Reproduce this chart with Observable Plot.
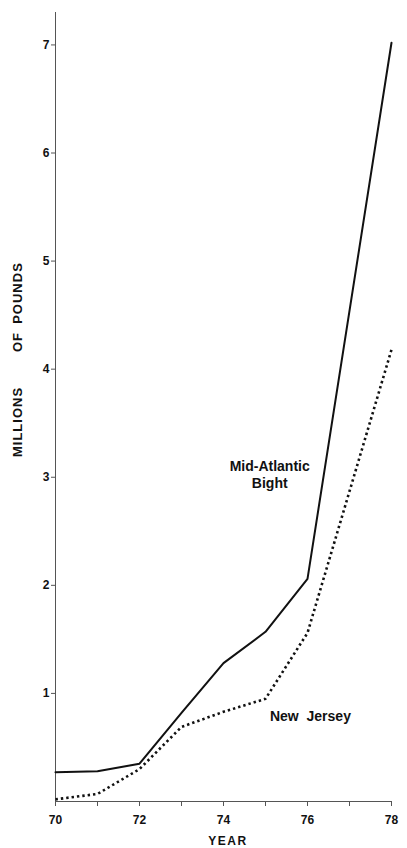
<!DOCTYPE html>
<html>
<head>
<meta charset="utf-8">
<script src="https://cdn.jsdelivr.net/npm/d3@7"></script>
<script src="https://cdn.jsdelivr.net/npm/@observablehq/plot@0.6"></script>
<style>
  html, body { margin: 0; padding: 0; background: #fff; }
  svg { font-family: "Liberation Sans", Arial, sans-serif; }
</style>
</head>
<body>
<div id="chart"></div>
<script>
const years = [70, 71, 72, 73, 74, 75, 76, 77, 78];
const midAtlanticYears = [70, 71, 72, 73, 74, 75, 76, 78];
const midAtlantic = [0.27, 0.28, 0.35, 0.82, 1.28, 1.57, 2.06, 7.02];
const newJerseyYears = [70, 71, 72, 73, 74, 75, 76, 78];
const newJersey = [0.02, 0.07, 0.30, 0.69, 0.83, 0.95, 1.56, 4.18];
const yTicks = [1, 2, 3, 4, 5, 6, 7];
const xLabelTicks = [70, 72, 74, 76, 78];
const yTitleWords = ["MILLIONS", "OF", "POUNDS"];
const labels = [
  {name: "Mid-Atlantic\nBight", year: 75.1, value: 3.03},
  {name: "New  Jersey", year: 76.07, value: 0.8}
];

const ma = midAtlanticYears.map((y, i) => ({year: y, value: midAtlantic[i]}));
const nj = newJerseyYears.map((y, i) => ({year: y, value: newJersey[i]}));

const chart = Plot.plot({
  width: 407,
  height: 848,
  marginLeft: 55,
  marginRight: 16,
  marginTop: 12,
  marginBottom: 47,
  x: {domain: [70, 78], axis: null},
  y: {domain: [0, 7.3], axis: null},
  style: {fontFamily: "Liberation Sans, Arial, sans-serif", color: "#111"},
  marks: [
    Plot.ruleX([70], {stroke: "#555", strokeWidth: 1}),
    Plot.ruleY([0], {stroke: "#555", strokeWidth: 1}),
    Plot.axisY(yTicks, {anchor: "left", tickSize: 4, tickPadding: 2, label: null, fontSize: 12, fontWeight: "bold", stroke: "#555", tickFormat: d => d}),
    Plot.axisX(years, {anchor: "bottom", tickSize: 5, text: null, label: null, stroke: "#555"}),
    Plot.axisX(xLabelTicks, {anchor: "bottom", tickSize: 0, tickPadding: 14, label: null, fontSize: 12, fontWeight: "bold", tickFormat: d => d}),
    Plot.line(ma, {x: "year", y: "value", stroke: "#111", strokeWidth: 2}),
    Plot.line(nj, {x: "year", y: "value", stroke: "#111", strokeWidth: 2.6, strokeDasharray: "2.4 3", strokeLinecap: "butt", strokeLinejoin: "miter"}),
    Plot.text(labels, {x: "year", y: "value", text: "name", fontSize: 14, fontWeight: "bold", lineHeight: 1.25, fill: "#111", textAnchor: "middle", style: "letter-spacing:1.5px"})
  ]
});

const svg = d3.select(chart);
// y-axis title: words placed along the axis as in the original
const wordCenters = [422, 342, 293];
yTitleWords.forEach((w, i) => {
  svg.append("text")
    .attr("transform", `translate(22,${wordCenters[i]}) rotate(-90)`)
    .attr("text-anchor", "middle")
    .attr("font-size", 13)
    .attr("font-weight", "bold")
    .attr("letter-spacing", "1px")
    .attr("fill", "#111")
    .text(w);
});
svg.append("text")
  .attr("x", 228)
  .attr("y", 845)
  .attr("text-anchor", "middle")
  .attr("font-size", 12)
  .attr("font-weight", "bold")
  .attr("letter-spacing", "1.5px")
  .attr("fill", "#111")
  .text("YEAR");

document.getElementById("chart").appendChild(chart);
</script>
</body>
</html>
